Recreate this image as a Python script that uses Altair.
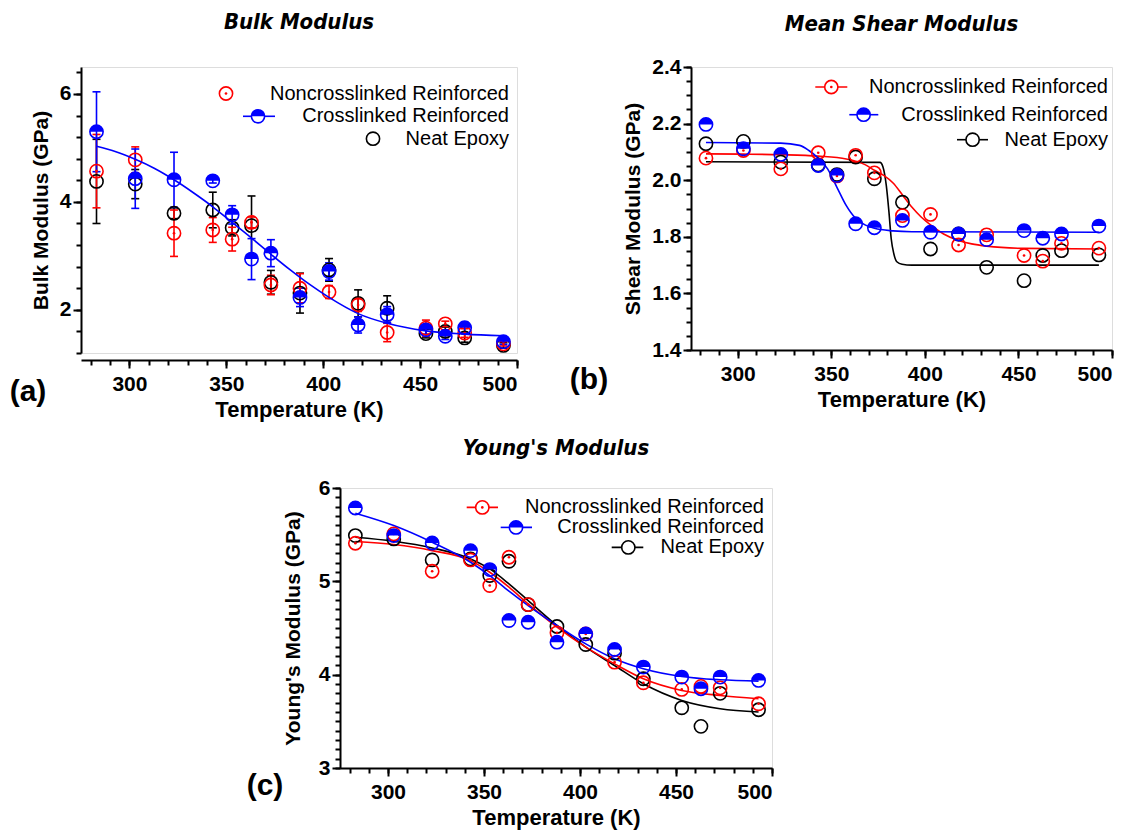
import altair as alt
import pandas as pd

# ---------------- data ----------------
TEMPS = [283, 303, 323, 343, 353, 363, 373, 388, 403, 418, 433, 453, 463, 473, 493]
SERIES = ["Noncrosslinked Reinforced", "Crosslinked Reinforced", "Neat Epoxy"]

# (a) Bulk modulus (GPa) with symmetric error bars
BULK_NC = [4.57, 4.78, 3.42, 3.48, 3.31, 3.62, 2.46, 2.40, 2.33, 2.09, 1.58, 1.66, 1.74, 1.57, 1.37]
BULK_NC_ERR = [0.68, 0.24, 0.43, 0.23, 0.22, 0.10, 0.18, 0.27, 0.12, 0.12, 0.17, 0.15, 0.05, 0.08, 0.04]
BULK_CL = [5.30, 4.43, 4.41, 4.39, 3.76, 2.94, 3.05, 2.23, 2.71, 1.72, 1.91, 1.63, 1.51, 1.67, 1.41]
BULK_CL_ERR = [0.74, 0.55, 0.51, 0.04, 0.17, 0.38, 0.25, 0.17, 0.16, 0.15, 0.15, 0.08, 0.06, 0.10, 0.05]
BULK_NE = [4.38, 4.33, 3.79, 3.85, 3.52, 3.56, 2.51, 2.31, 2.74, 2.12, 2.03, 1.56, 1.60, 1.48, 1.34]
BULK_NE_ERR = [0.78, 0.27, 0.10, 0.33, 0.15, 0.55, 0.22, 0.37, 0.21, 0.25, 0.23, 0.08, 0.08, 0.08, 0.05]
BULK_FIT_T = [283, 293, 303, 313, 323, 333, 343, 353, 363, 373, 383, 393, 403, 418, 433, 453, 473, 493]
BULK_FIT_CL = [5.03, 4.93, 4.79, 4.62, 4.41, 4.17, 3.91, 3.62, 3.33, 3.03, 2.74, 2.47, 2.23, 1.93, 1.75, 1.61, 1.55, 1.52]

# (b) Mean shear modulus (GPa)
SHEAR_NC = [2.078, 2.105, 2.040, 2.097, 2.015, 2.088, 2.026, 1.875, 1.879, 1.771, 1.807, 1.734, 1.714, 1.777, 1.760]
SHEAR_CL = [2.197, 2.111, 2.091, 2.052, 2.017, 1.846, 1.832, 1.858, 1.816, 1.810, 1.790, 1.822, 1.795, 1.810, 1.838]
SHEAR_NE = [2.129, 2.137, 2.064, 2.054, 2.020, 2.082, 2.005, 1.922, 1.757, 1.810, 1.692, 1.645, 1.734, 1.751, 1.736]
SHEAR_FIT_NC_T = [283, 303, 323, 343, 358, 368, 373, 378, 383, 388, 393, 398, 403, 410, 418, 425, 433, 453, 493]
SHEAR_FIT_NC = [2.093, 2.092, 2.090, 2.085, 2.075, 2.055, 2.035, 2.017, 1.990, 1.948, 1.905, 1.870, 1.842, 1.810, 1.787, 1.775, 1.767, 1.759, 1.757]
SHEAR_FIT_CL_T = [283, 323, 333, 338, 343, 348, 353, 358, 363, 368, 373, 383, 393, 493]
SHEAR_FIT_CL = [2.133, 2.131, 2.123, 2.105, 2.078, 2.040, 1.975, 1.910, 1.865, 1.842, 1.830, 1.821, 1.818, 1.816]
SHEAR_FIT_NE_T = [283, 376, 377.6, 379.4, 380.8, 382, 383.4, 385, 387.8, 393, 493]
SHEAR_FIT_NE = [2.065, 2.063, 2.047, 1.980, 1.887, 1.793, 1.740, 1.712, 1.703, 1.700, 1.700]

# (c) Young's modulus (GPa)
YOUNG_NC = [5.408, 5.508, 5.108, 5.229, 4.955, 5.258, 4.751, 4.448, 4.437, 4.134, 3.913, 3.842, 3.874, 3.859, 3.688]
YOUNG_CL = [5.786, 5.490, 5.411, 5.329, 5.126, 4.580, 4.562, 4.348, 4.437, 4.270, 4.081, 3.974, 3.849, 3.974, 3.938]
YOUNG_NE = [5.490, 5.454, 5.229, 5.240, 5.062, 5.215, 4.750, 4.516, 4.323, 4.230, 3.956, 3.645, 3.446, 3.800, 3.624]
YOUNG_FIT_T = [283, 303, 323, 343, 353, 363, 373, 388, 403, 418, 433, 453, 473, 493]
YOUNG_FIT_NC = [5.426, 5.394, 5.329, 5.222, 5.097, 4.937, 4.758, 4.509, 4.295, 4.116, 3.956, 3.831, 3.777, 3.742]
YOUNG_FIT_CL = [5.729, 5.597, 5.418, 5.204, 5.060, 4.894, 4.740, 4.527, 4.330, 4.170, 4.063, 3.980, 3.945, 3.931]
YOUNG_FIT_NE = [5.472, 5.429, 5.358, 5.240, 5.133, 4.973, 4.794, 4.527, 4.295, 4.098, 3.902, 3.724, 3.635, 3.600]

# axis ticks
X_MAJOR = [300, 350, 400, 450, 500]
X_MINOR = [280, 290, 300, 310, 320, 330, 340, 350, 360, 370, 380, 390, 400, 410, 420, 430, 440, 450, 460, 470, 480, 490, 500]
YA_MAJOR = [2, 4, 6]
YA_MINOR = [1.2, 1.6, 2.0, 2.4, 2.8, 3.2, 3.6, 4.0, 4.4, 4.8, 5.2, 5.6, 6.0, 6.4]
YB_MAJOR = [1.4, 1.6, 1.8, 2.0, 2.2, 2.4]
YB_MINOR = [1.4, 1.45, 1.5, 1.55, 1.6, 1.65, 1.7, 1.75, 1.8, 1.85, 1.9, 1.95, 2.0, 2.05, 2.1, 2.15, 2.2, 2.25, 2.3, 2.35, 2.4]
YC_MAJOR = [3, 4, 5, 6]
YC_MINOR = [3.0, 3.1, 3.2, 3.3, 3.4, 3.5, 3.6, 3.7, 3.8, 3.9, 4.0, 4.1, 4.2, 4.3, 4.4, 4.5, 4.6, 4.7, 4.8, 4.9,
            5.0, 5.1, 5.2, 5.3, 5.4, 5.5, 5.6, 5.7, 5.8, 5.9, 6.0]

# ---------------- style ----------------
RED = "#ff0000"
BLUE = "#0000ff"
BLACK = "#000000"
FONT = "Liberation Sans, Arial, sans-serif"
TFONT = "Liberation Sans Narrow, DejaVu Sans Condensed, Liberation Sans, sans-serif"
SYM = 175
HALF = "M -1 0 A 1 1 0 0 1 1 0 Z"
STYLE = {SERIES[0]: ("dot", RED), SERIES[1]: ("half", BLUE), SERIES[2]: ("open", BLACK)}


def frame(vals, errs=None):
    df = pd.DataFrame({"T": TEMPS, "v": vals})
    if errs is not None:
        df["lo"] = [v - e for v, e in zip(vals, errs)]
        df["hi"] = [v + e for v, e in zip(vals, errs)]
    return df


def axes_layers(df, xs, ys, ytitle, ymaj, ymin, xoff, ytp):
    common = dict(grid=False, domainColor="black", domainWidth=2, tickColor="black", tickWidth=2)
    xa = alt.Axis(values=X_MAJOR, orient="bottom", tickSize=8, labelFont=FONT, labelFontSize=21,
                  labelFontWeight="bold", labelColor="black", labelPadding=5, format="d",
                  title="Temperature (K)", titleFont=FONT, titleFontSize=22, titleFontWeight="bold",
                  titleColor="black", titlePadding=5, offset=xoff, **common)
    ya = alt.Axis(values=ymaj, orient="left", tickSize=8, labelFont=FONT, labelFontSize=21,
                  labelFontWeight="bold", labelColor="black", labelPadding=2,
                  title=ytitle, titleFont=FONT, titleFontSize=21, titleFontWeight="bold",
                  titleColor="black", titlePadding=ytp, **common)
    xm = alt.Axis(values=X_MINOR, orient="bottom", tickSize=5, labels=False, domain=False,
                  title=None, offset=xoff, grid=False, tickColor="black", tickWidth=2)
    ym = alt.Axis(values=ymin, orient="left", tickSize=5, labels=False, domain=False,
                  title=None, grid=False, tickColor="black", tickWidth=2)
    l1 = alt.Chart(df).mark_point(opacity=0).encode(
        x=alt.X("T:Q", scale=xs, axis=xa), y=alt.Y("v:Q", scale=ys, axis=ya))
    l2 = alt.Chart(df).mark_point(opacity=0).encode(
        x=alt.X("T:Q", scale=xs, axis=xm), y=alt.Y("v:Q", scale=ys, axis=ym))
    return [l1, l2]


def marker_layers(df, series, xs, ys):
    kind, color = STYLE[series]
    enc = dict(x=alt.X("T:Q", scale=xs, axis=None), y=alt.Y("v:Q", scale=ys, axis=None))
    out = [alt.Chart(df).mark_point(shape="circle", filled=False, size=SYM, strokeWidth=1.6,
                                    color=color, opacity=1).encode(**enc)]
    if kind == "dot":
        out.append(alt.Chart(df).mark_point(shape="circle", filled=True, size=7, color=color,
                                            opacity=1).encode(**enc))
    if kind == "half":
        out.append(alt.Chart(df).mark_point(shape=HALF, filled=True, size=SYM, color=color,
                                            strokeWidth=0, opacity=1).encode(**enc))
    return out


def err_layers(df, color, xs, ys):
    x = alt.X("T:Q", scale=xs, axis=None)
    r = alt.Chart(df).mark_rule(color=color, strokeWidth=1.6).encode(
        x=x, y=alt.Y("lo:Q", scale=ys, axis=None), y2="hi:Q")
    t1 = alt.Chart(df).mark_tick(color=color, orient="horizontal", size=8, thickness=1.6, opacity=1).encode(
        x=x, y=alt.Y("lo:Q", scale=ys, axis=None))
    t2 = alt.Chart(df).mark_tick(color=color, orient="horizontal", size=8, thickness=1.6, opacity=1).encode(
        x=x, y=alt.Y("hi:Q", scale=ys, axis=None))
    return [r, t1, t2]


def fit_layer(ts, vals, color, xs, ys):
    df = pd.DataFrame({"T": ts, "v": vals})
    return alt.Chart(df).mark_line(color=color, strokeWidth=1.6, interpolate="monotone").encode(
        x=alt.X("T:Q", scale=xs, axis=None), y=alt.Y("v:Q", scale=ys, axis=None))


ONE = pd.DataFrame({"k": [0]})


def legend_layers(rows):
    out = []
    for series, y, sx, lx1, lx2, tx in rows:
        kind, color = STYLE[series]
        if lx1 is not None:
            out.append(alt.Chart(ONE).mark_rule(color=color, strokeWidth=1.6).encode(
                x=alt.value(lx1), x2=alt.value(lx2), y=alt.value(y)))
        out.append(alt.Chart(ONE).mark_point(shape="circle", filled=False, size=SYM, strokeWidth=1.6,
                                             color=color, opacity=1, fill="white", fillOpacity=1).encode(
            x=alt.value(sx), y=alt.value(y)))
        if kind == "dot":
            out.append(alt.Chart(ONE).mark_point(shape="circle", filled=True, size=7, color=color,
                                                 opacity=1).encode(x=alt.value(sx), y=alt.value(y)))
        if kind == "half":
            out.append(alt.Chart(ONE).mark_point(shape=HALF, filled=True, size=SYM, color=color,
                                                 strokeWidth=0, opacity=1).encode(x=alt.value(sx), y=alt.value(y)))
        out.append(alt.Chart(pd.DataFrame({"t": [series]})).mark_text(
            align="right", baseline="middle", font=FONT, fontSize=20, color="black").encode(
            x=alt.value(tx), y=alt.value(y), text="t:N"))
    return out


def text_layer(txt, x, y, size, italic=False, font=FONT):
    return alt.Chart(pd.DataFrame({"t": [txt]})).mark_text(
        align="center", baseline="middle", font=font, fontSize=size, fontWeight="bold",
        fontStyle="italic" if italic else "normal", color="black").encode(
        x=alt.value(x), y=alt.value(y), text="t:N")


def panel(layers, w, h):
    return alt.layer(*layers).resolve_axis(x="independent", y="independent").properties(width=w, height=h)


# ---------------- panel (a) ----------------
WA, HA = 436, 286
xs_a = alt.Scale(domain=[275, 500], nice=False, zero=False)
ys_a = alt.Scale(domain=[1.2, 6.5], nice=False, zero=False)
a_nc, a_cl, a_ne = frame(BULK_NC, BULK_NC_ERR), frame(BULK_CL, BULK_CL_ERR), frame(BULK_NE, BULK_NE_ERR)
la = axes_layers(a_ne, xs_a, ys_a, "Bulk Modulus (GPa)", YA_MAJOR, YA_MINOR, 7, 8)
la += err_layers(a_ne, BLACK, xs_a, ys_a) + err_layers(a_nc, RED, xs_a, ys_a) + err_layers(a_cl, BLUE, xs_a, ys_a)
la += marker_layers(a_ne, SERIES[2], xs_a, ys_a) + marker_layers(a_nc, SERIES[0], xs_a, ys_a)
la += marker_layers(a_cl, SERIES[1], xs_a, ys_a)
la.append(fit_layer(BULK_FIT_T, BULK_FIT_CL, BLUE, xs_a, ys_a))
la += legend_layers([
    (SERIES[0], 26.5, 145, None, None, 428),
    (SERIES[1], 49.3, 177, 162, 194, 428),
    (SERIES[2], 71.7, 292, None, None, 428),
])
la.append(text_layer("Bulk Modulus", WA / 2, -44.7, 22, italic=True, font=TFONT))
la.append(text_layer("(a)", -53, 325, 30))
chart_a = panel(la, WA, HA)

# ---------------- panel (b) ----------------
WB, HB = 421, 283
xs_b = alt.Scale(domain=[275, 500], nice=False, zero=False)
ys_b = alt.Scale(domain=[1.4, 2.4], nice=False, zero=False)
b_nc, b_cl, b_ne = frame(SHEAR_NC), frame(SHEAR_CL), frame(SHEAR_NE)
lb = axes_layers(b_ne, xs_b, ys_b, "Shear Modulus (GPa)", YB_MAJOR, YB_MINOR, 0, 8)
lb.append(fit_layer(SHEAR_FIT_NE_T, SHEAR_FIT_NE, BLACK, xs_b, ys_b))
lb.append(fit_layer(SHEAR_FIT_NC_T, SHEAR_FIT_NC, RED, xs_b, ys_b))
lb.append(fit_layer(SHEAR_FIT_CL_T, SHEAR_FIT_CL, BLUE, xs_b, ys_b))
lb += marker_layers(b_ne, SERIES[2], xs_b, ys_b) + marker_layers(b_nc, SERIES[0], xs_b, ys_b)
lb += marker_layers(b_cl, SERIES[1], xs_b, ys_b)
lb += legend_layers([
    (SERIES[0], 20, 140.3, 124.3, 156.3, 417),
    (SERIES[1], 47.7, 172.6, 158.3, 187.3, 417),
    (SERIES[2], 72.7, 281.6, 266, 297, 417),
])
lb.append(text_layer("Mean Shear Modulus", WB / 2, -43, 22, italic=True, font=TFONT))
lb.append(text_layer("(b)", -102, 312.5, 30))
chart_b = panel(lb, WB, HB)

# ---------------- panel (c) ----------------
WC, HC = 432, 280
xs_c = alt.Scale(domain=[275, 500], nice=False, zero=False)
ys_c = alt.Scale(domain=[3, 6], nice=False, zero=False)
c_nc, c_cl, c_ne = frame(YOUNG_NC), frame(YOUNG_CL), frame(YOUNG_NE)
lc = axes_layers(c_ne, xs_c, ys_c, "Young's Modulus (GPa)", YC_MAJOR, YC_MINOR, 0, 15)
lc.append(fit_layer(YOUNG_FIT_T, YOUNG_FIT_NE, BLACK, xs_c, ys_c))
lc.append(fit_layer(YOUNG_FIT_T, YOUNG_FIT_NC, RED, xs_c, ys_c))
lc.append(fit_layer(YOUNG_FIT_T, YOUNG_FIT_CL, BLUE, xs_c, ys_c))
lc += marker_layers(c_ne, SERIES[2], xs_c, ys_c) + marker_layers(c_nc, SERIES[0], xs_c, ys_c)
lc += marker_layers(c_cl, SERIES[1], xs_c, ys_c)
lc += legend_layers([
    (SERIES[0], 19.4, 142.3, 126.7, 158, 424),
    (SERIES[1], 39.4, 176, 160.7, 192, 424),
    (SERIES[2], 59.4, 288.3, 271.7, 303.3, 424),
])
lc.append(text_layer("Young's Modulus", WC / 2, -40, 22, italic=True, font=TFONT))
lc.append(text_layer("(c)", -75, 298, 30))
chart_c = panel(lc, WC, HC)

spacer = alt.Chart(ONE).mark_point(opacity=0).encode(x=alt.value(0), y=alt.value(0)).properties(
    width=200, height=10, view=alt.ViewBackground(stroke="transparent"))

row1 = alt.hconcat(chart_a, chart_b, spacing=174, bounds="flush")
row2 = alt.hconcat(spacer, chart_c, spacing=59, bounds="flush")
chart = alt.vconcat(row1, row2, spacing=421, bounds="flush").properties(
    padding={"left": 1, "top": 2, "right": 5, "bottom": 5}
).configure_view(stroke="black", strokeWidth=1.5).configure(background="white")

chart.save("out.html", embed_options={"renderer": "svg", "actions": False})
